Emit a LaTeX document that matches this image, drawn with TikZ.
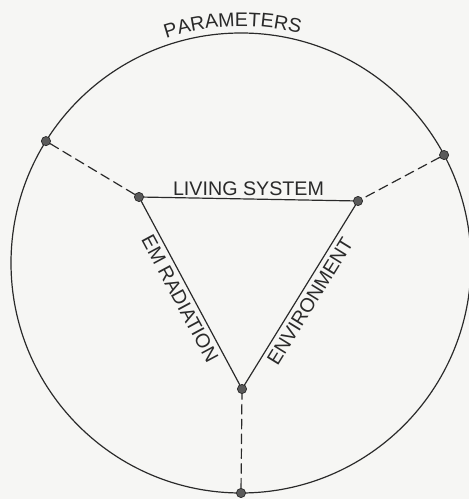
\documentclass[tikz,border=0pt]{standalone}
\usepackage{fontspec}
\setmainfont{Liberation Sans}
\usetikzlibrary{calc,decorations.text}
\definecolor{ink}{HTML}{2A2A2A}
\definecolor{paper}{HTML}{F6F6F4}
\definecolor{dotfill}{HTML}{5A5A5A}
\newcommand{\letterfont}{\fontsize{14}{16}\selectfont}

\begin{document}
\begin{tikzpicture}[
  line cap=round,
  edge/.style={line width=0.85pt, draw=ink},
  spoke/.style={line width=0.85pt, draw=ink, dash pattern=on 2.4mm off 1.3mm},
  joint/.style={circle, fill=dotfill, draw=ink, line width=0.5pt,
                inner sep=0pt, minimum size=2.3mm},
  lettering/.style={font=\letterfont, text=ink, inner sep=3pt}
]

% frame
\useasboundingbox[fill=paper] (0,0) rectangle (11.725,12.475);
\coordinate (centre) at (6.025,5.9);

% outer circle
\draw[edge] (centre) circle[radius=5.75];
\path[decorate, decoration={text along path, text align=center, text color=ink,
      text={|\letterfont|PARAMETERS}}]
  ($(centre)+(113:5.92)$) arc[start angle=113, end angle=71, radius=5.92];

% triangle corners
\node[joint] (tl) at (3.475,7.55) {};
\node[joint] (tr) at (8.95,7.45) {};
\node[joint] (tb) at (6.05,2.75) {};

% points on the circle
\node[joint] (cl) at ($(centre)+(148:5.75)$) {};
\node[joint] (cr) at ($(centre)+(28:5.75)$) {};
\node[joint] (cb) at ($(centre)+(-90:5.75)$) {};

% triangle
\draw[edge] (tl) -- node[lettering, above, inner sep=2pt] {LIVING SYSTEM} (tr);
\draw[edge] (tl) -- node[lettering, sloped, below] {EM RADIATION} (tb);
\draw[edge] (tb) -- node[lettering, sloped, below] {ENVIRONMENT} (tr);

% spokes
\draw[spoke] (cl) -- (tl);
\draw[spoke] (cr) -- (tr);
\draw[spoke] (cb) -- (tb);

\end{tikzpicture}
\end{document}
